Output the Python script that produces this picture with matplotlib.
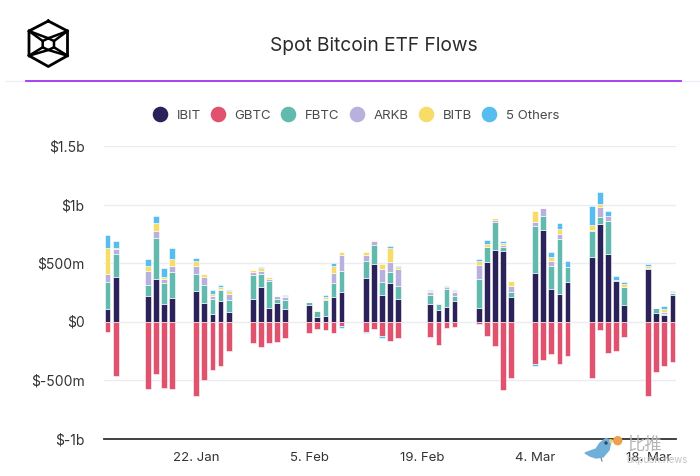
#!/usr/bin/env python3
"""Spot Bitcoin ETF flows: daily stacked bars per fund, in $m."""
import matplotlib
matplotlib.use("Agg")
import matplotlib.dates as mdates
import matplotlib.pyplot as plt
import numpy as np
from matplotlib.lines import Line2D
from matplotlib.patches import Circle, Polygon

days = ["2024-01-11", "2024-01-12",
        "2024-01-16", "2024-01-17", "2024-01-18", "2024-01-19",
        "2024-01-22", "2024-01-23", "2024-01-24", "2024-01-25", "2024-01-26",
        "2024-01-29", "2024-01-30", "2024-01-31", "2024-02-01", "2024-02-02",
        "2024-02-05", "2024-02-06", "2024-02-07", "2024-02-08", "2024-02-09",
        "2024-02-12", "2024-02-13", "2024-02-14", "2024-02-15", "2024-02-16",
        "2024-02-20", "2024-02-21", "2024-02-22", "2024-02-23",
        "2024-02-26", "2024-02-27", "2024-02-28", "2024-02-29", "2024-03-01",
        "2024-03-04", "2024-03-05", "2024-03-06", "2024-03-07", "2024-03-08",
        "2024-03-11", "2024-03-12", "2024-03-13", "2024-03-14", "2024-03-15",
        "2024-03-18", "2024-03-19", "2024-03-20", "2024-03-21"]

ibit = [105, 379, 215, 367, 150, 203, 257, 161, 62, 172, 85, 195, 291, 116, 161, 105, 138, 42, 51, 206, 249,
        370, 489, 226, 325, 195, 150, 96, 127, 172, 119, 511, 610, 599, 206, 412, 783, 280, 237, 336,
        554, 836, 576, 347, 141, 446, 73, 54, 226]
gbtc = [-88, -469, -579, -449, -568, -579, -633, -503, -415, -384, -251, -186, -220, -186, -175, -144, -99, -65,
        -76, -99, -40, -88, -65, -124, -164, -141, -130, -198, -56, -45, -23, -121, -209, -588, -480, -364, -328,
        -274, -362, -294, -480, -76, -271, -251, -130, -633, -435, -381, -347]
fbtc = [229, 195, 99, 347, 175, 218, 153, 153, 133, 96, 96, 203, 119, 229, 31, 76, 31, 45, 133, 119, 186,
        150, 161, 110, 99, 107, 76, 54, 153, 42, 240, 127, 237, 42, 42, 404, 119, 198, 469, 130,
        218, 54, 283, 6, 153, 8, 45, 11, 14]
arkb = [68, 42, 119, 56, 34, 56, 68, 65, 20, 11, 56, 23, 23, 14, 23, 25, 0, 3, 11, 88, 130,
        45, 34, 110, 88, 144, 23, 11, 11, 34, 121, 0, 20, 11, 54, 31, 68, 42, 42, 0,
        11, 88, 42, 0, 0, 0, 0, 20, 0]
bitb = [229, 14, 45, 68, 20, 56, 42, 23, 23, 20, 20, 23, 20, 20, 0, 11, 0, 11, 11, 65, 31,
        31, 14, 42, 119, 20, 11, 0, 0, 11, 40, 25, 14, 20, 45, 99, 0, 34, 42, 0,
        42, 23, 0, 0, 23, 23, 0, 23, 11]
others = [110, 54, 56, 65, 79, 96, 25, 0, 34, 14, 14, 0, 17, 0, 0, 11, 0, 0, 20, 23, -14,
          -11, 0, -17, 11, 11, 11, 0, 11, 11, 14, 31, 0, 14, 0, -20, 0, 42, 48, 54,
          164, 110, 45, 37, 20, 11, 0, 23, 11]

series = [("IBIT", ibit, "#2a2259"), ("GBTC", gbtc, "#e0526e"), ("FBTC", fbtc, "#62b9ae"),
          ("ARKB", arkb, "#b8b1de"), ("BITB", bitb, "#f8dc68"), ("5 Others", others, "#56bdee")]

y_ticks = [-1000, -500, 0, 500, 1000, 1500]
y_labels = ["$-1b", "$-500m", "$0", "$500m", "$1b", "$1.5b"]
x_ticks = ["2024-01-22", "2024-02-05", "2024-02-19", "2024-03-04", "2024-03-18"]
x_labels = ["22. Jan", "5. Feb", "19. Feb", "4. Mar", "18. Mar"]

plt.rcParams["font.family"] = ["Inter", "DejaVu Sans"]
W, H = 700, 476
fig = plt.figure(figsize=(7, 4.76), dpi=100, facecolor="white")

# chart area, pixel box 104..676 x 146..438.5
ax = fig.add_axes([104 / W, (H - 438.5) / H, 572 / W, 292.5 / H])
x = mdates.date2num(np.array(days, dtype="datetime64[D]"))
ref = mdates.date2num(np.datetime64("2024-01-22"))
up = np.zeros(len(x))
down = np.zeros(len(x))
for name, vals, col in series:
    v = np.array(vals, float)
    bottom = np.where(v >= 0, up, down)
    ax.bar(x, v, bottom=bottom, width=0.72, color=col, edgecolor="white", linewidth=0.4, zorder=3)
    up += np.clip(v, 0, None)
    down += np.clip(v, None, 0)

ax.set_xlim(ref - 11.44, ref + 59.44)
ax.set_ylim(-1000, 1500)
ax.set_yticks(y_ticks, y_labels)
ax.set_xticks(mdates.date2num(np.array(x_ticks, dtype="datetime64[D]")), x_labels)
ax.tick_params(axis="y", length=0, pad=14, labelsize=10, labelcolor="#333333")
ax.tick_params(axis="x", length=0, pad=10, labelsize=9.5, labelcolor="#333333")
ax.grid(axis="y", color="#ececf0", lw=1, zorder=0)
for s in ("top", "left", "right"):
    ax.spines[s].set_visible(False)
ax.spines["bottom"].set_color("#333333")
ax.spines["bottom"].set_linewidth(1.3)
ax.spines["bottom"].set_zorder(4)

handles = [Line2D([], [], ls="", marker="o", ms=10.2, color=c, label=n) for n, _, c in series]
fig.legend(handles=handles, ncol=6, loc="center", bbox_to_anchor=(355.5 / W, 1 - 116 / H), frameon=False,
           fontsize=9.5, labelcolor="#4a4a4a", handletextpad=0.68, columnspacing=0.69, handlelength=1.2)

fig.text(373.5 / W, 1 - 46 / H, "Spot Bitcoin ETF Flows", ha="center", va="center", fontsize=13.8, color="#2b2b2b")

# overlay in pixel coordinates: header rule, logo, watermark
ov = fig.add_axes([0, 0, 1, 1], zorder=5)
ov.set_xlim(0, W)
ov.set_ylim(H, 0)
ov.axis("off")
ov.plot([6, 700], [81, 81], color="#f0ecf8", lw=1)
ov.plot([26, 681], [80.5, 80.5], color="#a033f0", lw=1.3)

ov.plot([48.3, 67.5, 67.5, 48.3, 29, 29, 48.3], [21, 31, 55.7, 66.5, 55.7, 31, 21], color="black", lw=2)
ov.plot([48.3, 54, 54, 48.3, 42.7, 42.7, 48.3], [38.3, 41, 47.3, 50, 47.3, 41, 38.3], color="black", lw=1.8)
for cx, cy, ix, iy in [(29, 31, 42.7, 41), (67.5, 31, 54, 41), (29, 55.7, 42.7, 47.3), (67.5, 55.7, 54, 47.3)]:
    ov.plot([cx, ix], [cy, iy], color="black", lw=1.8)
ov.plot([29, 48.3, 67.5], [31, 38.3, 31], color="black", lw=1.8)
ov.plot([29, 48.3, 67.5], [55.7, 50, 55.7], color="black", lw=1.8)

ov.add_patch(Polygon([(585, 453), (596, 449), (600, 443), (606, 438.5), (611, 441), (609, 450), (603, 457),
                      (596, 458), (590, 456)], color="#6fb0d8", zorder=6))
ov.add_patch(Circle((606, 443), 1, color="#33485a", zorder=7))
ov.add_patch(Polygon([(610, 439.5), (614, 441), (610, 442.5)], color="#f3d36b", zorder=6))
ov.add_patch(Circle((617.7, 440.7), 4, color="#eda04f", zorder=6))
ov.plot([601, 602], [458, 461], color="#6a7a88", lw=0.8)
ov.text(645, 445, "比推", family=["Noto Sans CJK SC", "DejaVu Sans"], fontsize=12.5, color="#b5b5b5",
        ha="center", va="center", style="italic")
ov.text(657, 460, "bitpush.news", fontsize=7, color="#c4c4c4", ha="center", va="center")

fig.savefig("out.png", dpi=100)
